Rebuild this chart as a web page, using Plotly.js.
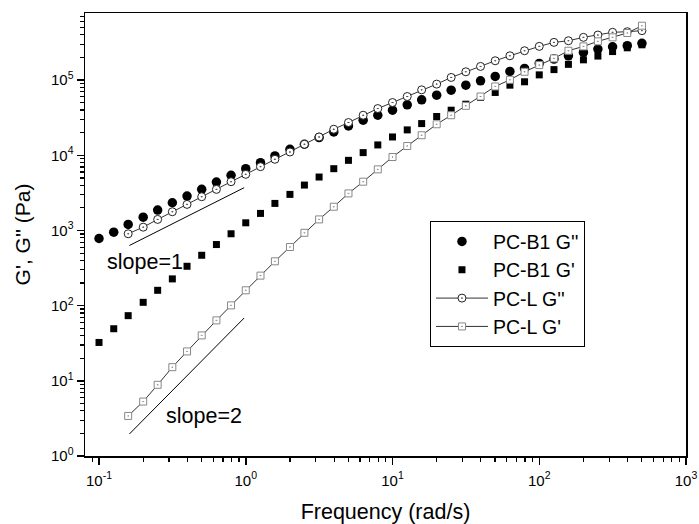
<!DOCTYPE html>
<html>
<head>
<meta charset="utf-8">
<script src="https://cdn.plot.ly/plotly-3.0.1.min.js"></script>
<style>html,body{margin:0;padding:0;background:#fff;}#chart{width:699px;height:524px;}</style>
</head>
<body>
<div id="chart"></div>
<script>
// Frequency (rad/s)
var freqB1 = [0.1, 0.126, 0.158, 0.2, 0.251, 0.316, 0.398, 0.501, 0.631, 0.794,
  1, 1.26, 1.58, 2, 2.51, 3.16, 3.98, 5.01, 6.31, 7.94,
  10, 12.6, 15.8, 20, 25.1, 31.6, 39.8, 50.1, 63.1, 79.4,
  100, 126, 158, 200, 251, 316, 398, 501];
var freqL = [0.158, 0.2, 0.251, 0.316, 0.398, 0.501, 0.631, 0.794,
  1, 1.26, 1.58, 2, 2.51, 3.16, 3.98, 5.01, 6.31, 7.94,
  10, 12.6, 15.8, 20, 25.1, 31.6, 39.8, 50.1, 63.1, 79.4,
  100, 126, 158, 200, 251, 316, 398, 501];

// PC-B1 G'' (Pa)
var b1Gpp = [782, 948, 1202, 1503, 1866, 2339, 2871, 3524, 4406, 5408,
  6637, 7980, 9795, 12020, 14030, 17220, 20460, 24600, 29310, 34120,
  39810, 46880, 54700, 63100, 73620, 85700, 97950, 111900, 130600, 143200,
  166700, 190500, 210900, 233900, 258800, 278000, 287100, 308300];
// PC-B1 G' (Pa)
var b1Gp = [32.4, 49.3, 73.6, 110.7, 160, 227, 334, 468, 650, 904,
  1265, 1687, 2291, 3020, 4018, 5140, 6637, 8570, 10860, 13740,
  17540, 21780, 26420, 32810, 39810, 47860, 58750, 68550, 85700, 95060,
  117500, 138000, 162200, 186200, 208900, 239900, 269200, 295100];
// PC-L G'' (Pa)
var lGpp = [904, 1107, 1403, 1774, 2223, 2812, 3524, 4457, 5585, 7063,
  8851, 11070, 14030, 17540, 22230, 27290, 34120, 41880, 50350, 60530,
  74300, 88510, 108600, 129100, 152100, 181100, 210900, 246000, 281200, 317700,
  334200, 370700, 398100, 432500, 440600, 455000];
// PC-L G' (Pa)
var lGp = [3.41, 5.30, 8.85, 15.2, 24.6, 40.2, 63.7, 100.9, 160, 251,
  389, 603, 931, 1403, 2070, 3112, 4457, 6501, 9484, 13300,
  18490, 25880, 34120, 45500, 60530, 82410, 100900, 129100, 158500, 194500,
  246000, 281200, 328100, 370700, 423600, 529700];

// guide lines
var slope1X = [0.161, 0.975], slope1Y = [631, 3707];
var slope2X = [0.161, 0.975], slope2Y = [1.96, 68.5];

var seriesNames = ["PC-B1 G''", "PC-B1 G'", "PC-L G''", "PC-L G'"];
var xTickVals = [0.1, 1, 10, 100, 1000];
var xTickText = ['10<sup>-1</sup>', '10<sup>0</sup>', '10<sup>1</sup>', '10<sup>2</sup>', '10<sup>3</sup>'];
var yTickVals = [1, 10, 100, 1000, 10000, 100000];
var yTickText = ['10<sup>0</sup>', '10<sup>1</sup>', '10<sup>2</sup>', '10<sup>3</sup>', '10<sup>4</sup>', '10<sup>5</sup>'];

function minorVals(lo, hi) {
  var out = [];
  for (var e = lo; e <= hi; e++) {
    for (var d = 2; d <= 9; d++) out.push(d * Math.pow(10, e));
  }
  return out;
}

var FONT = 'Liberation Sans, Arial, sans-serif';

var traces = [
  {x: freqB1, y: b1Gpp, name: seriesNames[0], mode: 'markers', type: 'scatter',
   marker: {symbol: 'circle', size: 9.5, color: '#000'}},
  {x: freqB1, y: b1Gp, name: seriesNames[1], mode: 'markers', type: 'scatter',
   marker: {symbol: 'square', size: 7, color: '#000'}},
  {x: freqL, y: lGpp, name: seriesNames[2], mode: 'lines+markers', type: 'scatter',
   line: {color: '#333', width: 1},
   marker: {symbol: 'circle-dot', size: 8, color: '#fff', line: {color: '#222', width: 1}}},
  {x: freqL, y: lGp, name: seriesNames[3], mode: 'lines+markers', type: 'scatter',
   line: {color: '#333', width: 1},
   marker: {symbol: 'square-dot', size: 7, color: '#fff', line: {color: '#888', width: 1}}},
  {x: slope1X, y: slope1Y, mode: 'lines', type: 'scatter', showlegend: false,
   line: {color: '#000', width: 1}, hoverinfo: 'skip'},
  {x: slope2X, y: slope2Y, mode: 'lines', type: 'scatter', showlegend: false,
   line: {color: '#000', width: 1}, hoverinfo: 'skip'}
];

var layout = {
  width: 699, height: 524,
  margin: {l: 85, r: 13, t: 13, b: 68, pad: 0},
  paper_bgcolor: '#fff', plot_bgcolor: '#fff',
  font: {family: FONT, size: 15, color: '#000'},
  showlegend: true,
  legend: {x: 0.574, y: 0.53, xanchor: 'left', yanchor: 'top',
    bgcolor: '#fff', bordercolor: '#000', borderwidth: 1,
    font: {family: FONT, size: 19.5, color: '#000'}, itemwidth: 52,
    tracegroupgap: 0},
  xaxis: {
    type: 'log', range: [-1.0955, 3.0], showgrid: false, zeroline: false,
    showline: true, linecolor: '#000', linewidth: 1.5, mirror: true,
    ticks: 'outside', ticklen: 7, tickwidth: 1.5, tickcolor: '#000',
    tickmode: 'array', tickvals: xTickVals, ticktext: xTickText,
    tickfont: {family: FONT, size: 15}, ticklabelstandoff: 3,
    minor: {ticks: 'outside', ticklen: 4, tickwidth: 1.2, tickcolor: '#000',
      tickmode: 'array', tickvals: minorVals(-2, 2), showgrid: false},
    title: {text: 'Frequency (rad/s)', font: {family: FONT, size: 21.5}, standoff: 18}
  },
  yaxis: {
    type: 'log', range: [0, 5.893], showgrid: false, zeroline: false,
    showline: true, linecolor: '#000', linewidth: 1.5, mirror: true,
    ticks: 'outside', ticklen: 7, tickwidth: 1.5, tickcolor: '#000',
    tickmode: 'array', tickvals: yTickVals, ticktext: yTickText,
    tickfont: {family: FONT, size: 15},
    minor: {ticks: 'outside', ticklen: 4, tickwidth: 1.2, tickcolor: '#000',
      tickmode: 'array', tickvals: minorVals(0, 5), showgrid: false},
    title: {text: "G', G'' (Pa)", font: {family: FONT, size: 21}, standoff: 14}
  },
  annotations: [
    {x: -0.686, y: 2.587, xref: 'x', yref: 'y', text: 'slope=1', showarrow: false,
     font: {family: FONT, size: 21.5, color: '#000'}},
    {x: -0.287, y: 0.533, xref: 'x', yref: 'y', text: 'slope=2', showarrow: false,
     font: {family: FONT, size: 21.5, color: '#000'}}
  ]
};

Plotly.newPlot('chart', traces, layout, {displayModeBar: false, staticPlot: true});
</script>
</body>
</html>
